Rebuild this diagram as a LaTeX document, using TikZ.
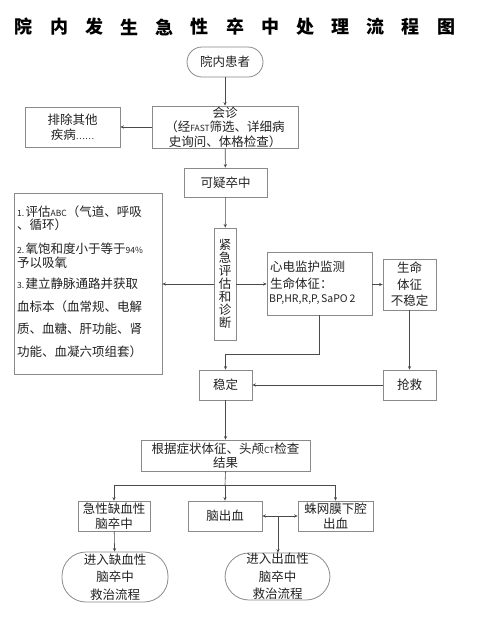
\documentclass[tikz,border=0pt]{standalone}
\usepackage{fontspec}
\setmainfont{Noto Sans CJK SC}
\usetikzlibrary{arrows.meta}
\definecolor{bd}{HTML}{8A8A8A}
\definecolor{lnc}{HTML}{4A4A4A}
\definecolor{tx}{HTML}{222222}
\newcommand{\lt}[1]{{\fontsize{8.5}{10}\selectfont #1}}
\tikzset{
  box/.style={draw=bd, line width=0.8pt, inner sep=0pt, align=center, text=tx,
    font=\fontsize{12.5}{14.5}\selectfont},
  pill/.style={box, rounded corners=#1},
  txt/.style={inner sep=0pt, anchor=west, text=tx, font=\fontsize{12.5}{14.5}\selectfont},
  ttl/.style={inner sep=0pt, text=black, font=\fontsize{18}{20}\selectfont\bfseries},
  arr/.style={draw=lnc, line width=0.6pt, -{Stealth[length=3.5pt,width=3.2pt]}},
  lnk/.style={draw=lnc, line width=0.6pt}
}
\begin{document}
\begin{tikzpicture}[x=1pt,y=-1pt]
\useasboundingbox[fill=white] (0,0) rectangle (478,619);
% title
\foreach \c [count=\i from 0] in {院,内,发,生,急,性,卒,中,处,理,流,程,图}
  \node[ttl] (t\i) at (24+35.17*\i,27) {\c};
% nodes
\node[pill=15pt, minimum width=76pt, minimum height=30pt] (start) at (225,62) {院内患者};
\node[box, minimum width=146pt, minimum height=42pt] (huizhen) at (225,127)
  {会诊\\（经\lt{FAST}筛选、详细病\\史询问、体格检查）};
\node[box, minimum width=95pt, minimum height=40pt] (paichu) at (72.5,127)
  {排除其他\\疾病\lt{……}};
\node[box, minimum width=83pt, minimum height=29pt] (keyi) at (225.5,182.5) {可疑卒中};
\node[box, minimum width=148pt, minimum height=181pt] (big) at (88,283.5) {};
\node[txt] (b1) at (17,212) {\lt{1.\,}评估\lt{ABC}（气道、呼吸};
\node[txt] (b2) at (17,225) {、循环）};
\node[txt] (b3) at (17,249) {\lt{2.\,}氧饱和度小于等于\lt{94\%}};
\node[txt] (b4) at (17,263) {予以吸氧};
\node[txt] (b5) at (17,284) {\lt{3.\,}建立静脉通路并获取};
\node[txt] (b6) at (17,307) {血标本（血常规、电解};
\node[txt] (b7) at (17,329) {质、血糖、肝功能、肾};
\node[txt] (b8) at (17,352) {功能、血凝六项组套）};
\node[box, minimum width=22pt, minimum height=112pt, font=\fontsize{12.5}{13}\selectfont] (jinji) at (225,284)
  {紧\\急\\评\\估\\和\\诊\\断};
\node[box, minimum width=105pt, minimum height=63pt] (xindian) at (319.5,283.5) {};
\node[txt] (x1) at (270,267) {心电监护监测};
\node[txt] (x2) at (270,284) {生命体征：};
\node[txt, font=\fontsize{10.5}{12}\selectfont] (x3) at (269,300) {BP,HR,R,P,\,SaPO\,2};
\node[box, minimum width=53pt, minimum height=51pt, font=\fontsize{12.5}{16.5}\selectfont] (bwd) at (409.5,284.5)
  {生命\\体征\\不稳定};
\node[box, minimum width=53pt, minimum height=30pt] (wending) at (225.5,385) {稳定};
\node[box, minimum width=53pt, minimum height=30pt] (qiangjiu) at (409.5,385) {抢救};
\node[box, minimum width=169pt, minimum height=31pt] (genju) at (225.5,455.5)
  {根据症状体征、头颅\lt{CT}检查\\结果};
\node[box, minimum width=72pt, minimum height=30pt] (quexue) at (114,516) {急性缺血性\\脑卒中};
\node[box, minimum width=74pt, minimum height=30pt] (naochu) at (225,516) {脑出血};
\node[box, minimum width=75pt, minimum height=30pt] (zhuwang) at (335.5,516) {蛛网膜下腔\\出血};
\node[pill=24pt, minimum width=106pt, minimum height=50pt, font=\fontsize{12.5}{17.5}\selectfont] (jr1) at (115,577)
  {进入缺血性\\脑卒中\\救治流程};
\node[pill=24pt, minimum width=105pt, minimum height=47pt, font=\fontsize{12.5}{17.5}\selectfont] (jr2) at (277.5,576.5)
  {进入出血性\\脑卒中\\救治流程};
% connectors
\draw[arr] (start) -- (huizhen);
\draw[arr] (huizhen) -- (paichu);
\draw[arr] (huizhen) -- (keyi);
\draw[arr] (keyi) -- (jinji);
\draw[arr] (jinji.west) -- (jinji.west -| big.east);
\draw[arr] (jinji.east) -- (jinji.east -| xindian.west);
\draw[arr] (xindian.east |- bwd.west) -- (bwd.west);
\draw[arr] (bwd) -- (qiangjiu);
\draw[arr] (qiangjiu) -- (wending);
\coordinate (j3) at (319.5,354);
\draw[arr] (xindian.south) -- (j3) -| (wending.north);
\draw[arr] (wending) -- (genju);
\coordinate (j1) at (225,485);
\draw[lnk] (genju.south) -- (j1);
\draw[arr] (j1) -| (quexue.north);
\draw[arr] (j1) -| (zhuwang.north);
\draw[arr] (j1) -- (naochu.north);
\draw[arr] (quexue) -- (jr1);
\coordinate (j2) at (278,516);
\draw[arr] (j2) -- (naochu.east);
\draw[arr] (j2) -- (zhuwang.west);
\draw[arr] (j2) -- (j2 |- jr2.north);
\end{tikzpicture}
\end{document}
